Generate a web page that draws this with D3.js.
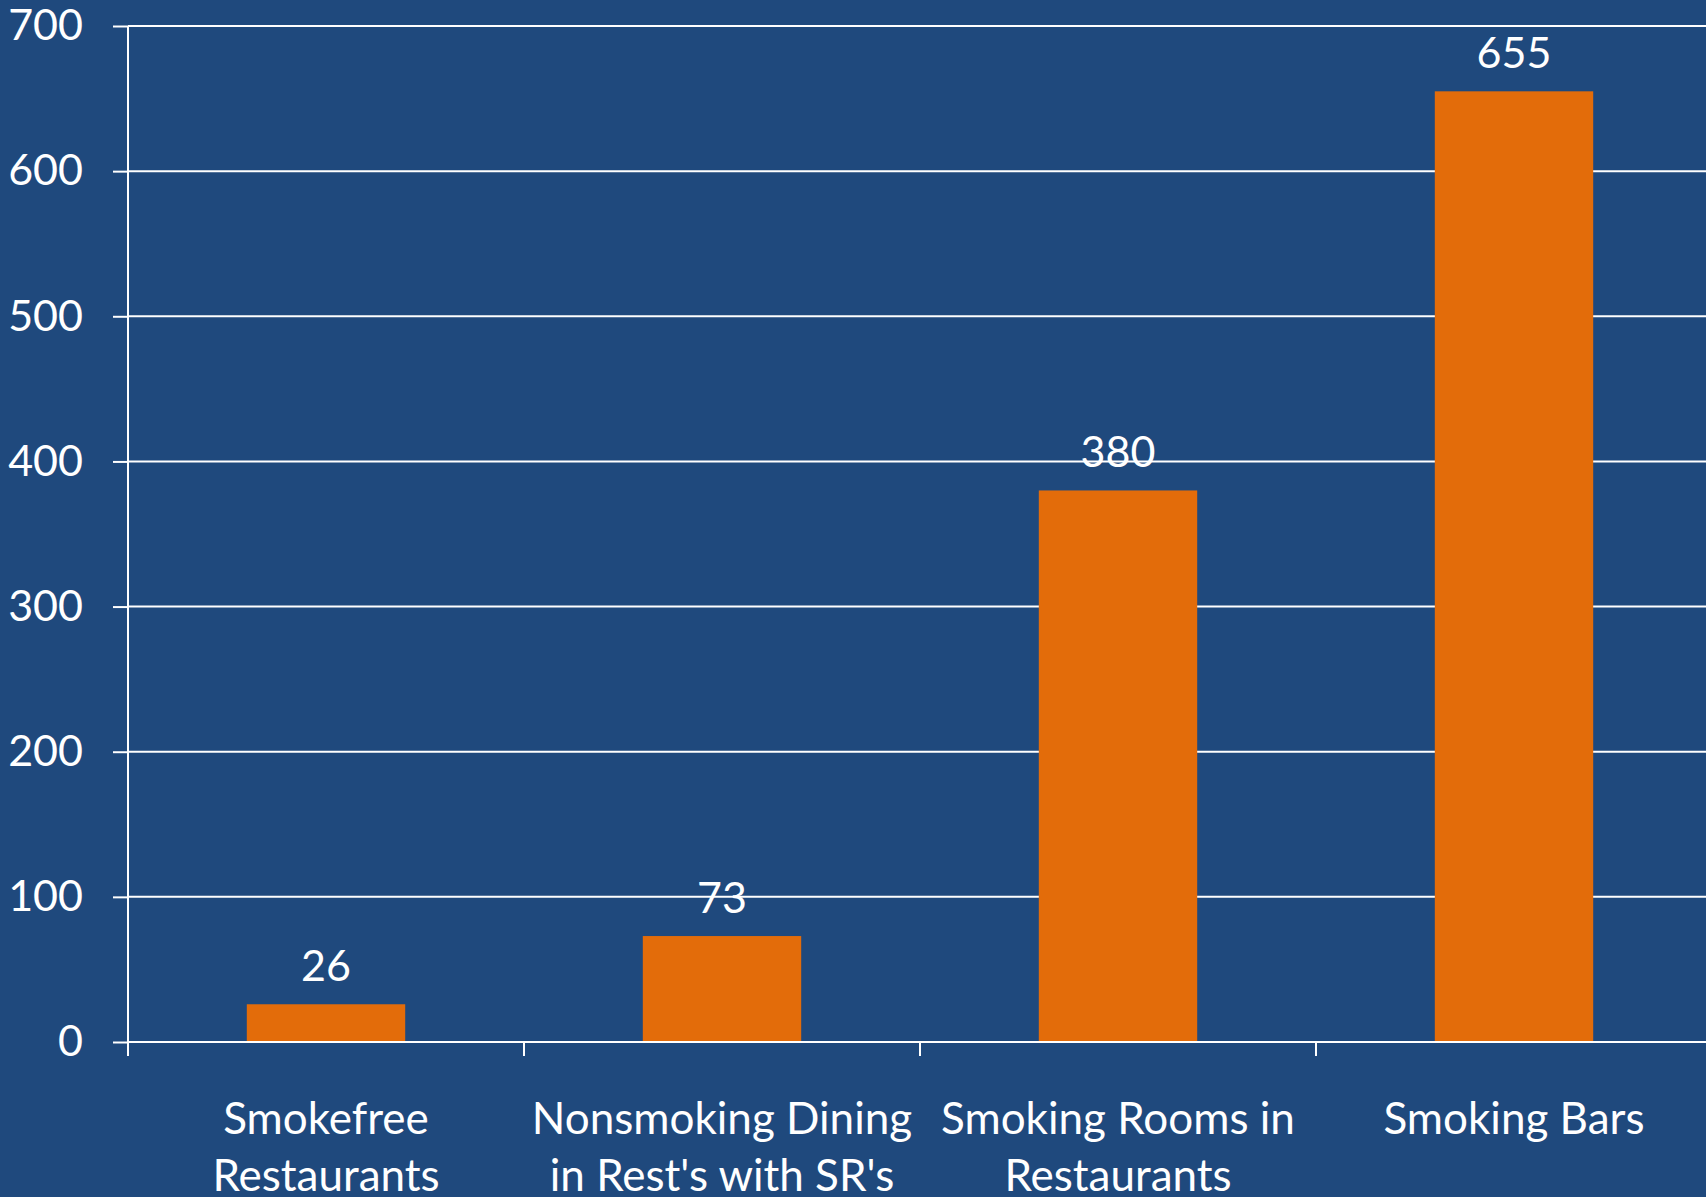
<!DOCTYPE html>
<html>
<head>
<meta charset="utf-8">
<script src="https://cdn.jsdelivr.net/npm/d3@7"></script>
<style>
  html, body { margin: 0; padding: 0; background: #1F497D; overflow: hidden; }
  svg { display: block; }
  text { font-family: Lato, "Open Sans", sans-serif; fill: #ffffff; }
</style>
</head>
<body>
<svg id="chart" width="1706" height="1197"></svg>
<script>
// Venue categories (two-line labels) and their measured values
const categories = ["Smokefree Restaurants", "Nonsmoking Dining in Rest's with SR's", "Smoking Rooms in Restaurants", "Smoking Bars"];
const categoryLines = [["Smokefree", "Restaurants"], ["Nonsmoking Dining", "in Rest's with SR's"], ["Smoking Rooms in", "Restaurants"], ["Smoking Bars"]];
const values = [26, 73, 380, 655];
const yTicks = [0, 100, 200, 300, 400, 500, 600, 700];

const svg = d3.select("#chart");
const W = 1706, H = 1197;
const margin = { left: 128, top: 26, bottom: 155 };
const plotBottom = H - margin.bottom;

svg.append("rect").attr("width", W).attr("height", H).attr("fill", "#1F497D");

const x = d3.scaleBand()
  .domain(categories)
  .range([margin.left, margin.left + 4 * 396])
  .paddingInner(0.6)
  .paddingOuter(0.3);

const y = d3.scaleLinear().domain([0, 700]).range([plotBottom, margin.top]);

// Horizontal grid lines with short ticks left of the axis
const yAxis = svg.append("g")
  .attr("transform", `translate(${margin.left},0)`)
  .call(d3.axisLeft(y).tickValues(yTicks).tickSize(15).tickPadding(30).tickFormat(d3.format("d")));
yAxis.select(".domain").remove();
yAxis.selectAll(".tick line").attr("stroke", "#ffffff").attr("stroke-width", 2);
yAxis.selectAll(".tick text")
  .attr("font-size", 43)
  .attr("fill", "#ffffff")
  .style("font-family", "Lato, 'Open Sans', sans-serif");

svg.append("g").selectAll("line")
  .data(yTicks)
  .join("line")
  .attr("x1", margin.left)
  .attr("x2", W)
  .attr("y1", d => y(d))
  .attr("y2", d => y(d))
  .attr("stroke", "#ffffff")
  .attr("stroke-width", 2);

// Vertical axis line
svg.append("line")
  .attr("x1", margin.left).attr("x2", margin.left)
  .attr("y1", y(700)).attr("y2", plotBottom + 14)
  .attr("stroke", "#ffffff").attr("stroke-width", 2);

// Category boundary ticks below the baseline
const boundaries = categories.map(c => x(c) - x.step() * x.paddingOuter());
svg.append("g").selectAll("line")
  .data(boundaries.slice(1))
  .join("line")
  .attr("x1", d => d).attr("x2", d => d)
  .attr("y1", plotBottom).attr("y2", plotBottom + 14)
  .attr("stroke", "#ffffff").attr("stroke-width", 2);

// Bars
svg.append("g").selectAll("rect")
  .data(values)
  .join("rect")
  .attr("x", (d, i) => x(categories[i]))
  .attr("width", x.bandwidth())
  .attr("y", d => y(d))
  .attr("height", d => y(0) - y(d) - 1)
  .attr("fill", "#E36C0A");

// Value labels above bars
svg.append("g").selectAll("text")
  .data(values)
  .join("text")
  .attr("x", (d, i) => x(categories[i]) + x.bandwidth() / 2)
  .attr("y", d => y(d) - 23)
  .attr("text-anchor", "middle")
  .attr("font-size", 43)
  .text(d => d);

// Category labels
const catG = svg.append("g").selectAll("text")
  .data(categories)
  .join("text")
  .attr("x", d => x(d) + x.bandwidth() / 2)
  .attr("y", 1134)
  .attr("text-anchor", "middle")
  .attr("font-size", 44);
catG.selectAll("tspan")
  .data((d, i) => categoryLines[i])
  .join("tspan")
  .attr("x", function () { return this.parentNode.getAttribute("x"); })
  .attr("dy", (d, j) => j === 0 ? 0 : 57)
  .text(d => d);
</script>
</body>
</html>
